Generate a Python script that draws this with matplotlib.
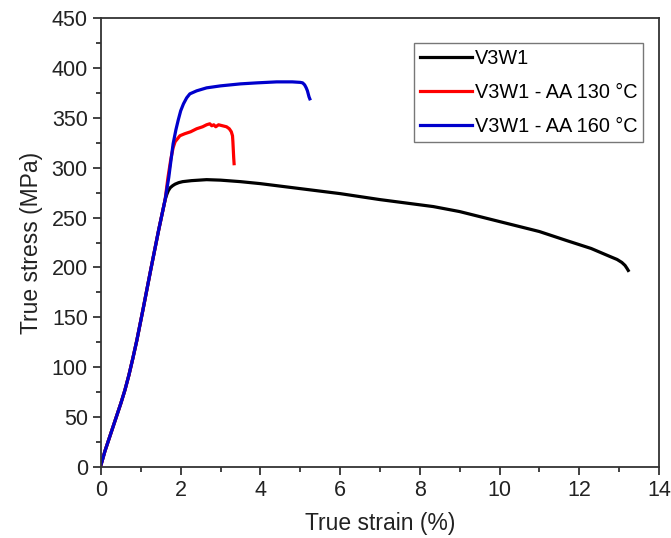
import matplotlib
matplotlib.use('Agg')
import matplotlib.pyplot as plt
from matplotlib.ticker import MultipleLocator

plt.rcParams['font.family'] = ['Liberation Sans', 'DejaVu Sans']

# shared elastic part
strain_el = [0.0, 0.1, 0.2, 0.3, 0.4, 0.5, 0.6, 0.7, 0.8, 0.9, 1.06, 1.25, 1.45, 1.61]
stress_el = [2, 16, 28, 40, 52, 64, 77, 92, 109, 127, 159, 198, 238, 268]

# V3W1 (as received)
strain_base = strain_el + [1.65, 1.69, 1.74, 1.8, 1.86, 1.95, 2.05, 2.27, 2.65, 3.0, 3.5, 4.0,
                           5.0, 6.0, 7.0, 8.34, 9.0, 10.0, 11.0, 11.68, 12.3, 12.77, 12.95,
                           13.07, 13.15, 13.2, 13.23]
stress_base = stress_el + [273, 277, 280, 282, 283.5, 285, 286, 287, 288, 287.5, 286, 284,
                           279, 274, 268, 261, 256, 246, 236, 227, 219, 211, 208,
                           205, 202, 199, 197]

# V3W1 - AA 130 C
strain_130 = strain_el + [1.68, 1.75, 1.81, 1.86, 1.92, 1.98, 2.1, 2.25, 2.4, 2.55, 2.65,
                          2.73, 2.78, 2.83, 2.88, 2.95, 3.05, 3.15, 3.22, 3.27, 3.3, 3.31,
                          3.32, 3.33, 3.34]
stress_130 = stress_el + [290, 308, 320, 326, 329, 332, 334, 336, 339, 341, 343,
                          344, 342, 343, 341, 343, 342, 341, 339, 336, 332, 326,
                          318, 310, 304]

# V3W1 - AA 160 C
strain_160 = strain_el + [1.7, 1.81, 1.88, 1.94, 2.0, 2.07, 2.15, 2.23, 2.4, 2.65, 3.0,
                          3.5, 3.91, 4.41, 4.8, 5.0, 5.06, 5.11, 5.15, 5.18, 5.2, 5.22, 5.24]
stress_160 = stress_el + [290, 324, 338, 348, 357, 364, 370, 374, 377, 380, 382,
                          384, 385, 386, 386, 385.5, 385, 383, 380, 377, 374, 371, 369]

labels = ['V3W1', 'V3W1 - AA 130 \u00b0C', 'V3W1 - AA 160 \u00b0C']
colors = ['#000000', '#ff0000', '#0000cc']

fig = plt.figure(figsize=(6.71, 5.38), dpi=100)
ax = fig.add_axes([0.1505, 0.132, 0.8315, 0.8345])

ax.plot(strain_base, stress_base, color=colors[0], lw=2.3, label=labels[0])
ax.plot(strain_130, stress_130, color=colors[1], lw=2.3, label=labels[1])
ax.plot(strain_160, stress_160, color=colors[2], lw=2.3, label=labels[2])

ax.set_xlim(0, 14)
ax.set_ylim(0, 450)
ax.xaxis.set_major_locator(MultipleLocator(2))
ax.xaxis.set_minor_locator(MultipleLocator(1))
ax.yaxis.set_major_locator(MultipleLocator(50))
ax.yaxis.set_minor_locator(MultipleLocator(25))
ax.tick_params(which='major', direction='out', length=6, width=1.3, labelsize=15.5,
               colors='#333333', labelcolor='#222222')
ax.tick_params(which='minor', direction='out', length=3.5, width=1.3, colors='#333333')
for s in ax.spines.values():
    s.set_linewidth(1.3)
    s.set_color('#333333')

ax.set_xlabel('True strain (%)', fontsize=16.5, labelpad=8, color='#222222')
ax.set_ylabel('True stress (MPa)', fontsize=16.5, labelpad=6, color='#222222')

leg = ax.legend(loc='upper right', bbox_to_anchor=(0.972, 0.944), fontsize=14.3, frameon=True,
                fancybox=False, edgecolor='#555555', handlelength=2.6, handletextpad=0.15,
                borderpad=0.3, labelspacing=0.75, borderaxespad=0.0)
leg.get_frame().set_linewidth(1.0)

fig.savefig('out.png', dpi=100)
